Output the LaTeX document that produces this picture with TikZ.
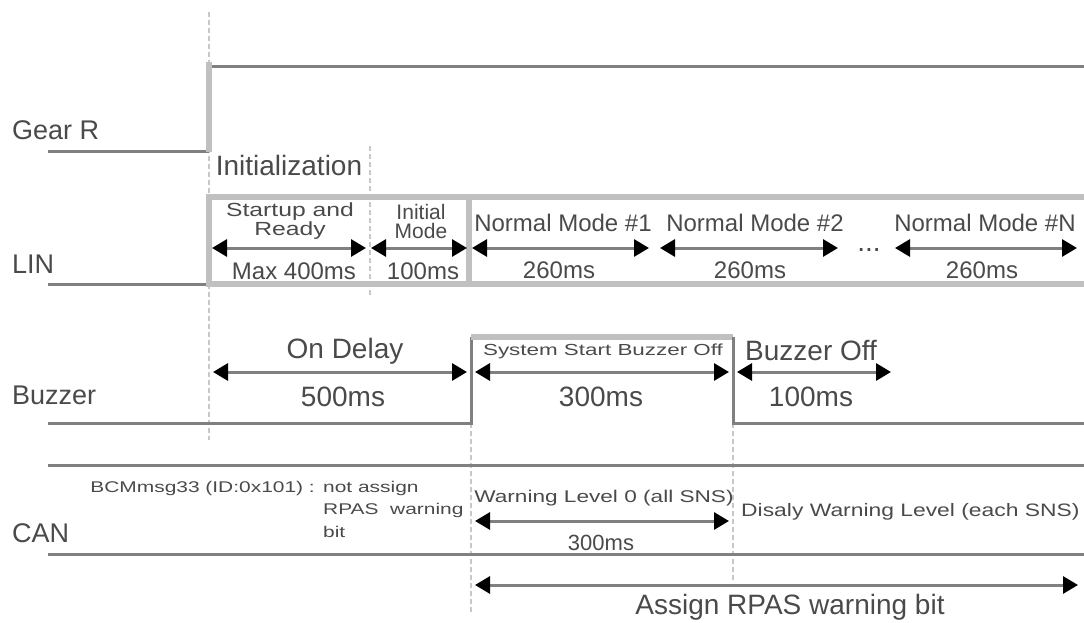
\documentclass[tikz,border=0pt]{standalone}
\usepackage{fontspec}
\setmainfont{Liberation Sans}
\usepackage{graphicx}
\usetikzlibrary{arrows.meta}
\definecolor{sigc}{HTML}{808080}
\definecolor{framec}{HTML}{C0C0C0}
\definecolor{guidec}{HTML}{C8C8C8}
\definecolor{txtc}{HTML}{4A4A4A}
\newcommand{\fsz}[1]{\fontsize{#1}{#1}\selectfont}
\newcommand{\sqz}[2]{\scalebox{#1}[1]{#2}}
\begin{document}
\begin{tikzpicture}[x=1pt,y=-1pt,
  sig/.style={draw=sigc,line width=3pt},
  framel/.style={draw=framec,line width=6pt},
  guide/.style={draw=guidec,line width=2pt,dash pattern=on 5pt off 3pt},
  dimarrow/.style={draw=sigc,line width=3pt,
    {Triangle[length=15pt,width=17pt,color=black,fill=black]}-{Triangle[length=15pt,width=17pt,color=black,fill=black]}},
  lbl/.style={text=txtc,inner sep=0pt,font=\fsz{24}},
  rowlbl/.style={lbl,anchor=west,font=\fsz{27}},
  big/.style={lbl,font=\fsz{28}}]
\useasboundingbox (0,0) rectangle (1084,623);

% guides
\draw[guide] (209,12) -- (209,440);
\draw[guide] (370,146) -- (370,298);
\draw[guide] (471,423) -- (471,613);
\draw[guide] (733,423) -- (733,580);

% Gear R
\draw[sig] (48,152) -- (209,152);
\draw[framel] (209,152) -- (209,62);
\draw[sig] (212,67) -- (1084,67);
\node[rowlbl] (gear) at (12,130) {Gear R};
\node[lbl,font=\fsz{28}] (init) at (289,165) {Initialization};

% LIN
\draw[sig] (48,284) -- (209,284);
\draw[framel,line join=miter] (1084,197) -- (209,197) -- (209,284) -- (1084,284);
\draw[framel] (469,200) -- (469,284);
\node[rowlbl] (lin) at (12,264) {LIN};

\coordinate (l1a) at (212,248); \coordinate (l1b) at (366,248);
\coordinate (l2a) at (371,248); \coordinate (l2b) at (467,248);
\coordinate (l3a) at (472,248); \coordinate (l3b) at (649,248);
\coordinate (l4a) at (660,248); \coordinate (l4b) at (838,248);
\coordinate (l5a) at (895,248); \coordinate (l5b) at (1077,248);
\draw[dimarrow] (l1a) -- (l1b);
\draw[dimarrow] (l2a) -- (l2b);
\draw[dimarrow] (l3a) -- (l3b);
\draw[dimarrow] (l4a) -- (l4b);
\draw[dimarrow] (l5a) -- (l5b);

\node[lbl,font=\fontsize{19}{19}\selectfont,align=center] (su) at (290,221) {\sqz{1.3}{Startup and}\\\sqz{1.3}{Ready}};
\node[lbl] (max) at (294,271) {Max 400ms};
\node[lbl,font=\fontsize{21}{19}\selectfont,align=center] (im) at (421,221) {Initial\\Mode};
\node[lbl] (t100) at (423,271) {100ms};
\node[lbl] (nm1) at (563,223) {Normal Mode \#1};
\node[lbl] (t1) at (559,270) {260ms};
\node[lbl] (nm2) at (755,223) {Normal Mode \#2};
\node[lbl] (t2) at (750,270) {260ms};
\node[lbl,font=\fsz{28},anchor=base] (dots) at (869,251) {...};
\node[lbl] (nmn) at (985,223) {Normal Mode \#N};
\node[lbl] (tn) at (982,270) {260ms};

% Buzzer
\draw[sig] (48,423) -- (471,423) -- (471,337);
\draw[framel] (471,337) -- (733,337);
\draw[sig] (733,337) -- (733,423) -- (1084,423);
\node[rowlbl] (buz) at (12,395) {Buzzer};

\coordinate (b1a) at (213,372); \coordinate (b1b) at (467,372);
\coordinate (b2a) at (475,372); \coordinate (b2b) at (729,372);
\coordinate (b3a) at (737,372); \coordinate (b3b) at (891,372);
\draw[dimarrow] (b1a) -- (b1b);
\draw[dimarrow] (b2a) -- (b2b);
\draw[dimarrow] (b3a) -- (b3b);
\node[big] (ond) at (345,351) {On Delay};
\node[big] (t500) at (343,397) {500ms};
\node[lbl,font=\fsz{16}] (ssb) at (603,351) {\sqz{1.4}{System Start Buzzer Off}};
\node[big] (t300) at (601,397) {300ms};
\node[big,anchor=west] (boff) at (745,351) {Buzzer Off};
\node[big] (t100b) at (811,397) {100ms};

% CAN
\draw[sig] (48,465) -- (1084,465);
\draw[sig] (48,554) -- (1084,554);
\node[rowlbl] (can) at (12,533) {CAN};
\node[lbl,font=\fsz{15.5},anchor=east] (bcm) at (315,488) {\sqz{1.35}{BCMmsg33 (ID:0x101) :}};
\node[lbl,font=\fsz{15.5},anchor=west] (na) at (323,488) {\sqz{1.35}{not assign}};
\node[lbl,font=\fsz{15.5},anchor=west] (rw) at (323,510) {\sqz{1.35}{RPAS\ \ warning}};
\node[lbl,font=\fsz{15.5},anchor=west] (bit) at (323,532) {\sqz{1.35}{bit}};
\node[lbl,font=\fsz{17}] (wl0) at (604,498) {\sqz{1.33}{Warning Level 0 (all SNS)}};
\coordinate (c1a) at (475,521); \coordinate (c1b) at (729,521);
\draw[dimarrow] (c1a) -- (c1b);
\node[lbl,font=\fsz{22}] (t300c) at (601,543) {300ms};
\node[lbl,font=\fsz{18},anchor=west] (dwl) at (741,512) {\sqz{1.27}{Disaly Warning Level (each SNS)}};

\coordinate (aa) at (475,585); \coordinate (ab) at (1078,585);
\draw[dimarrow] (aa) -- (ab);
\node[big] (asg) at (790,607) {Assign RPAS warning bit};
\end{tikzpicture}
\end{document}
